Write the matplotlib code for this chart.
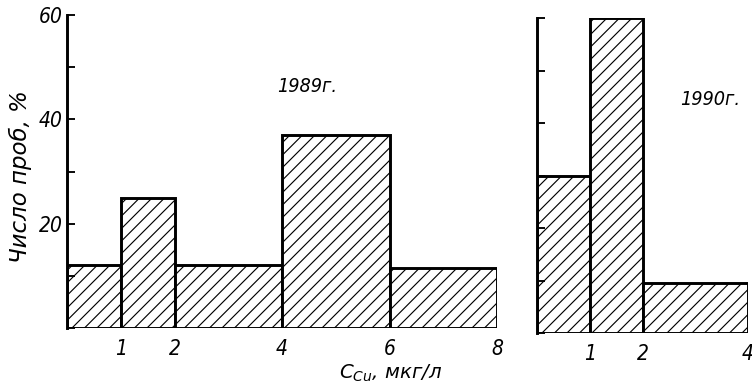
import matplotlib.pyplot as plt
from matplotlib.ticker import MultipleLocator

# данные гистограмм (границы интервалов и доля проб, %)
edges_1989 = [0, 1, 2, 4, 6, 8]
vals_1989 = [12, 25, 12, 37, 11.5]
edges_1990 = [0, 1, 2, 4]
vals_1990 = [30, 60, 9.5]

xticks_1989 = [1, 2, 4, 6, 8]
xticks_1990 = [1, 2, 4]
yticks = [20, 40, 60]

plt.rcParams['hatch.linewidth'] = 1.1
fnt = dict(family=['DejaVu Sans'], style='italic', stretch='condensed')
fnt_wide = dict(family=['DejaVu Sans'], style='italic')

DPI = 75
fig = plt.figure(figsize=(753 / DPI, 387 / DPI), dpi=DPI)

ax1 = fig.add_axes([67 / 753, 59 / 387, 430 / 753, 313 / 387])
ax2 = fig.add_axes([537 / 753, 54 / 387, 211 / 753, 315 / 387])


def draw(ax, edges, vals, xmax, xt, labels):
    widths = [edges[i + 1] - edges[i] for i in range(len(vals))]
    ax.bar(edges[:-1], vals, width=widths, align='edge', color='white',
           edgecolor='black', linewidth=2.8, hatch='//')
    ax.set_xlim(0, xmax)
    ax.set_ylim(0, 60)
    for s in ['top', 'right', 'bottom']:
        ax.spines[s].set_visible(False)
    ax.spines['left'].set_linewidth(2.8)
    ax.yaxis.set_major_locator(MultipleLocator(20))
    ax.yaxis.set_minor_locator(MultipleLocator(10))
    ax.tick_params(axis='y', which='both', direction='in', length=8, width=1.8,
                   pad=4)
    ax.set_xticks(xt)
    ax.set_xticklabels([str(v) for v in xt], fontsize=20, **fnt)
    ax.tick_params(axis='x', length=0, pad=11)
    if labels:
        ax.set_yticks(yticks)
        ax.set_yticklabels([str(v) for v in yticks], fontsize=20, **fnt)
    else:
        ax.set_yticklabels([])


draw(ax1, edges_1989, vals_1989, 8, xticks_1989, True)
draw(ax2, edges_1990, vals_1990, 4, xticks_1990, False)

ax1.text(0.488, 0.77, '1989г.', transform=ax1.transAxes, fontsize=19,
         va='center', **fnt)
ax2.text(0.678, 0.74, '1990г.', transform=ax2.transAxes, fontsize=19,
         va='center', **fnt)

fig.text(20 / 753, 1 - 177 / 387, 'Число проб, %', rotation=90,
         ha='center', va='center', fontsize=22, **fnt_wide)
fig.text(391 / 753, 1 - 373 / 387, r'$C_{Cu}$, мкг/л', ha='center',
         va='center', fontsize=19, **fnt_wide)

fig.savefig('out.png', dpi=DPI, facecolor='white')
